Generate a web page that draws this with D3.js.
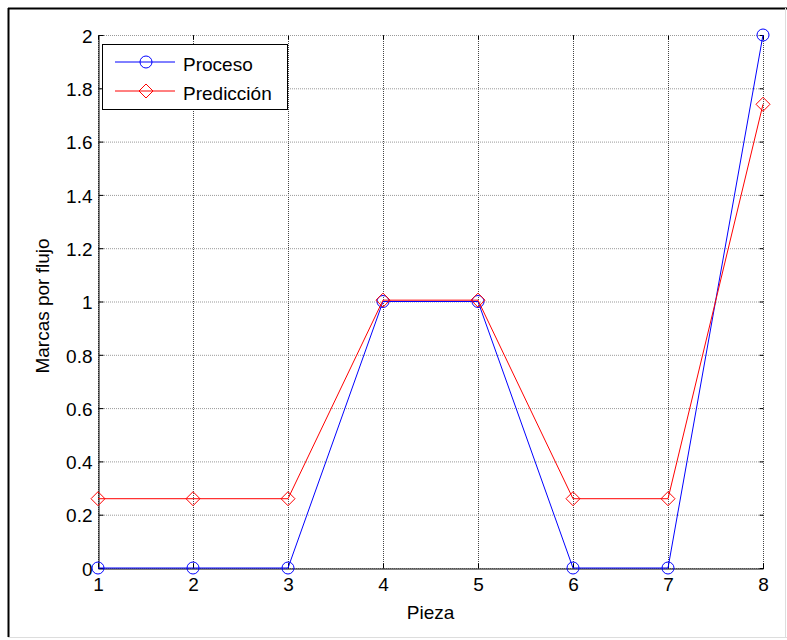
<html>
<head>
<script src="https://d3js.org/d3.v7.min.js"></script>
<style>
  body { margin: 0; background: #fff; }
  svg text { font-family: "Liberation Sans", Arial, sans-serif; fill: #000; }
</style>
</head>
<body>
<div id="chart"></div>
<script>
var piezas = [1, 2, 3, 4, 5, 6, 7, 8];
var proceso = [0, 0, 0, 1, 1, 0, 0, 2];
var prediccion = [0.26, 0.26, 0.26, 1.005, 1.005, 0.26, 0.26, 1.74];
var yTicks = [0, 0.2, 0.4, 0.6, 0.8, 1, 1.2, 1.4, 1.6, 1.8, 2];
var series = [
  { name: "Proceso", values: proceso, color: "#0000ff", marker: "circle" },
  { name: "Predicción", values: prediccion, color: "#ff0000", marker: "diamond" }
];

var width = 787, height = 640;
var pL = 98, pR = 763, pT = 35, pB = 568;
var fs = "19px";

var svg = d3.select("#chart").append("svg")
  .attr("width", width).attr("height", height);

// figure frame
svg.append("line").attr("x1", 8).attr("x2", width).attr("y1", 8.5).attr("y2", 8.5)
  .attr("stroke", "#000").attr("stroke-width", 2);
svg.append("line").attr("x1", 8.5).attr("x2", 8.5).attr("y1", 8).attr("y2", 637)
  .attr("stroke", "#000").attr("stroke-width", 2);
svg.append("line").attr("x1", 8).attr("x2", width).attr("y1", 637.5).attr("y2", 637.5)
  .attr("stroke", "#ddd");
svg.append("line").attr("x1", 785.5).attr("x2", 785.5).attr("y1", 8).attr("y2", 637)
  .attr("stroke", "#ddd");

var x = d3.scaleLinear().domain([1, 8]).range([pL, pR]);
var y = d3.scaleLinear().domain([0, 2]).range([pB, pT]);

// grid
svg.append("g").selectAll("line").data(piezas).enter().append("line")
  .attr("x1", d => x(d) + 0.5).attr("x2", d => x(d) + 0.5)
  .attr("y1", pT).attr("y2", pB)
  .attr("stroke", "#444").attr("stroke-dasharray", "1,1");
svg.append("g").selectAll("line").data(yTicks).enter().append("line")
  .attr("x1", pL).attr("x2", pR)
  .attr("y1", d => y(d) + 0.5).attr("y2", d => y(d) + 0.5)
  .attr("stroke", "#999").attr("stroke-dasharray", "1,1");

// axes
var xAxis = svg.append("g").attr("transform", "translate(0," + (pB + 0.5) + ")")
  .call(d3.axisBottom(x).tickValues(piezas).tickSize(-5).tickPadding(9).tickFormat(d3.format("d")));
var yAxis = svg.append("g").attr("transform", "translate(" + (pL + 0.5) + ",0)")
  .call(d3.axisLeft(y).tickValues(yTicks).tickSize(-5).tickPadding(6).tickFormat(d => String(d)));
svg.append("g").attr("transform", "translate(0," + (pT + 0.5) + ")")
  .call(d3.axisTop(x).tickValues(piezas).tickSize(-4).tickFormat(""))
  .select(".domain").remove();
svg.append("g").attr("transform", "translate(" + (pR + 0.5) + ",0)")
  .call(d3.axisRight(y).tickValues(yTicks).tickSize(-4).tickFormat(""))
  .select(".domain").remove();
[xAxis, yAxis].forEach(function (a) {
  a.select(".domain").attr("stroke", "#000");
  a.selectAll("text").style("font-size", fs);
});
xAxis.selectAll("text").attr("dy", "0.71em");
yAxis.selectAll("text").attr("dy", "0.38em");

svg.append("text").attr("x", (pL + pR) / 2).attr("y", 619)
  .attr("text-anchor", "middle").style("font-size", fs).text("Pieza");
svg.append("text")
  .attr("transform", "translate(48.5,306) rotate(-90)")
  .attr("text-anchor", "middle").style("font-size", fs).text("Marcas por flujo");

// series
var line = d3.line().x((d, i) => x(piezas[i])).y(d => y(d));
function drawMarker(g, type, color, cx, cy) {
  if (type === "circle") {
    g.append("circle").attr("cx", cx).attr("cy", cy).attr("r", 6)
      .attr("fill", "none").attr("stroke", color);
  } else {
    var s = 7;
    g.append("path")
      .attr("d", "M" + cx + "," + (cy - s) + "L" + (cx + s) + "," + cy + "L" + cx + "," + (cy + s) + "L" + (cx - s) + "," + cy + "Z")
      .attr("fill", "none").attr("stroke", color);
  }
}
series.forEach(function (s) {
  var g = svg.append("g");
  g.append("path").datum(s.values).attr("d", line)
    .attr("fill", "none").attr("stroke", s.color).attr("stroke-width", 1);
  s.values.forEach(function (v, i) { drawMarker(g, s.marker, s.color, x(piezas[i]), y(v)); });
});

// legend
var lg = svg.append("g");
lg.append("rect").attr("x", 102.5).attr("y", 44.5).attr("width", 185).attr("height", 65)
  .attr("fill", "#fff").attr("stroke", "#000");
series.forEach(function (s, i) {
  var ly = 62 + i * 29;
  lg.append("line").attr("x1", 115).attr("x2", 175).attr("y1", ly).attr("y2", ly)
    .attr("stroke", s.color);
  drawMarker(lg, s.marker, s.color, 146, ly);
  lg.append("text").attr("x", 183).attr("y", ly + 8.5).style("font-size", fs).text(s.name);
});
</script>
</body>
</html>
